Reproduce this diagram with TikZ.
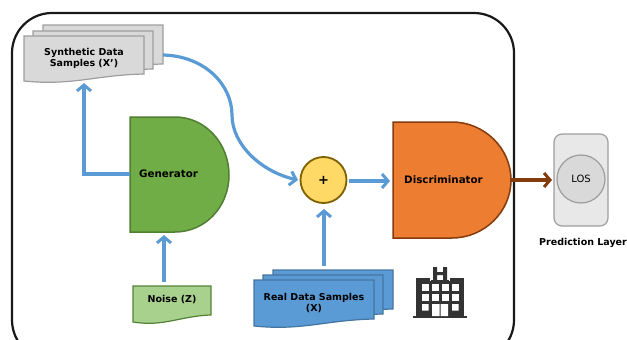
\documentclass[tikz,border=0pt]{standalone}
\usepackage{fontspec}
\setmainfont{DejaVu Sans}
\usetikzlibrary{arrows.meta}

\definecolor{flowblue}{HTML}{5B9BD5}
\definecolor{flowbrown}{HTML}{843C0C}

% stacked sheet with a wavy lower edge: x, y, width, height, style
\newcommand{\docsheet}[5]{
    \draw[#5] (#1,#2) -- ++(#3,0) -- ++(0,#4)
        .. controls +(-0.4*#3,1) and +(0.4*#3,5) .. ++(-#3,7) -- cycle;
}

\begin{document}
\begin{tikzpicture}[x=1pt,y=-1pt,
    label/.style={font=\bfseries\fontsize{9.5}{11}\selectfont,align=center,text=black},
    biglabel/.style={font=\bfseries\fontsize{10.3}{12}\selectfont,text=black},
    flow/.style={line width=3.2pt,flowblue,-{Straight Barb[length=6pt,width=14pt,line width=3pt]}},
    greysheet/.style={draw=black!38,fill=black!15,line width=1.2pt},
    bluesheet/.style={draw=flowblue!75!black,fill=flowblue,line width=1.2pt},
    greensheet/.style={draw={rgb,255:red,84;green,130;blue,53},fill={rgb,255:red,169;green,209;blue,142},line width=1.2pt}
]
    \useasboundingbox (0,0) rectangle (627,340);

    % outer frame runs past the lower edge of the page
    \begin{scope}
        \clip (0,0) rectangle (627,340);
        \draw[line width=2.2pt,black!90,rounded corners=40pt] (12,13) rectangle (514,360);
    \end{scope}

    % synthetic samples
    \docsheet{43}{25}{120}{39}{greysheet}
    \docsheet{33}{31}{120}{38}{greysheet}
    \docsheet{24}{36}{120}{38}{greysheet}
    \node[label] (synth) at (84,58) {Synthetic Data\\Samples (X’)};
    \coordinate (synthin) at (84,83);
    \coordinate (synthout) at (163,55);

    % generator
    \draw[fill={rgb,255:red,112;green,173;blue,71},draw={rgb,255:red,80;green,126;blue,50},line width=1.5pt]
        (130,117) -- (175,117) .. controls (205,117) and (229,143) .. (229,175)
        .. controls (229,207) and (205,232) .. (175,232) -- (130,232) -- cycle;
    \node[biglabel] (gen) at (168.5,174) {Generator};
    \coordinate (genleft) at (130,174);
    \coordinate (genbottom) at (164,235);
    \coordinate (elbow) at (84,174);

    % discriminator
    \draw[fill={rgb,255:red,237;green,125;blue,49},draw=flowbrown,line width=1.5pt]
        (393,122) -- (452,122) .. controls (484,122) and (511,148) .. (511,180)
        .. controls (511,212) and (484,238) .. (452,238) -- (393,238) -- cycle;
    \node[biglabel] (disc) at (443.5,180) {Discriminator};
    \coordinate (discleft) at (390,181);
    \coordinate (discright) at (511,180);

    % sum
    \node[circle,minimum size=46pt,inner sep=0pt,line width=1.8pt,draw={rgb,255:red,127;green,96;blue,0},
        fill={rgb,255:red,255;green,217;blue,102},font=\bfseries\fontsize{13}{13}\selectfont] (sum) at (323.5,180) {+};
    \coordinate (sumin) at (298,180);
    \coordinate (sumout) at (349,181);
    \coordinate (sumbottom) at (324,209);

    % noise
    \docsheet{133}{286}{78}{29}{greensheet}
    \node[label] (noise) at (172,300) {Noise (Z)};
    \coordinate (noisetop) at (164,282);

    % real samples
    \docsheet{273}{270}{120}{39}{bluesheet}
    \docsheet{263}{275}{120}{39}{bluesheet}
    \docsheet{254}{280}{120}{39}{bluesheet}
    \node[label] (real) at (314,303) {Real Data Samples\\(X)};
    \coordinate (realtop) at (324,266);

    % prediction layer
    \node[draw=black!38,fill=black!9,line width=1.2pt,rounded corners=8pt,minimum width=54pt,minimum height=92pt,inner sep=0pt] (predbox) at (581,180) {};
    \node[circle,draw=black!38,fill=black!15,line width=1.2pt,minimum size=48pt,inner sep=0pt,font=\fontsize{10}{12}\selectfont] (los) at (581,179) {LOS};
    \node[label] (pred) at (583,243) {Prediction Layer};
    \coordinate (predleft) at (552,180);

    % connectors
    \draw[flow] (genleft) -- (elbow) -- (synthin);
    \draw[flow] (noisetop) -- (genbottom);
    \draw[flow] (realtop) -- (sumbottom);
    \draw[flow] (sumout) -- (discleft);
    \draw[flow] (synthout) .. controls (205,56) and (232,85) .. (232,115)
        .. controls (232,145) and (262,172) .. (sumin);
    \draw[line width=3.2pt,flowbrown,-{Straight Barb[length=6pt,width=14pt,line width=3pt]}] (discright) -- (predleft);

    % hospital
    \fill[black!80] (416,278) rectangle (464,316);
    \fill[black!80] (413,316) rectangle (467,318);
    \fill[white] (430,266) rectangle (450,281);
    \fill[black!80] (433,267) rectangle (437,280) (443,267) rectangle (447,280) (433,272) rectangle (447,275);
    \fill[black!80] (431,280) rectangle (449,282);
    \foreach \wx in {422,432,442,452} {
        \foreach \wy in {284,294} {
            \fill[white] (\wx,\wy) rectangle ++(6.5,6.5);
        }
    }
    \fill[white] (422,304) rectangle ++(6.5,6.5) (452,304) rectangle ++(6.5,6.5);
    \fill[white] (432,304) rectangle (439.5,316) (440.5,304) rectangle (448,316);
\end{tikzpicture}
\end{document}
